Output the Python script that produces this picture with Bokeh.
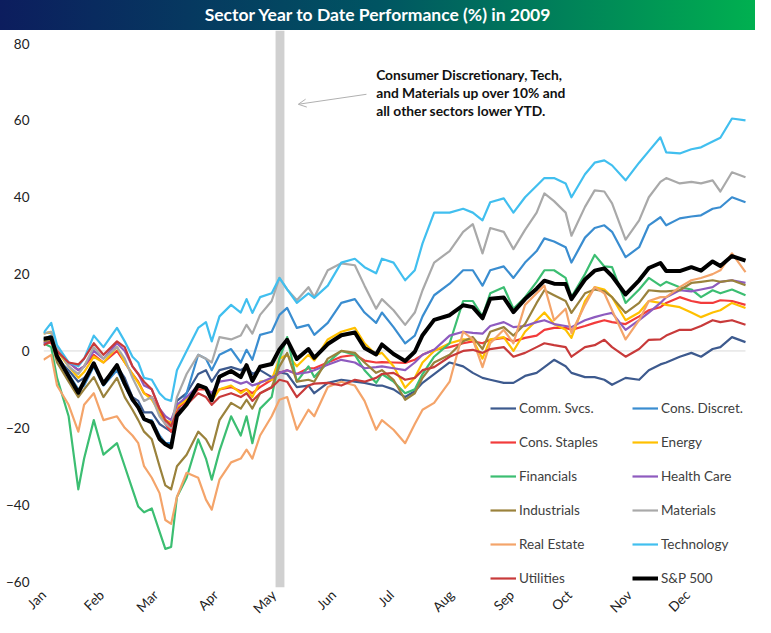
import numpy as np
import pandas as pd
from math import pi
from bokeh.plotting import figure
from bokeh.layouts import column
from bokeh.models import (Range1d, FixedTicker, DatetimeTickFormatter, Legend, LegendItem,
                          BoxAnnotation, Label, Arrow, OpenHead, ColumnDataSource, Div)
from bokeh.embed import file_html
from bokeh.resources import INLINE

# ---------------- data (YTD % change, 2009) ----------------
dates = ["2009-01-02", "2009-01-06", "2009-01-09", "2009-01-15", "2009-01-20", "2009-01-23", "2009-01-28",
         "2009-02-02", "2009-02-09", "2009-02-13", "2009-02-17", "2009-02-20", "2009-02-23", "2009-02-27",
         "2009-03-03", "2009-03-06", "2009-03-09", "2009-03-12", "2009-03-17", "2009-03-23", "2009-03-27", "2009-03-30",
         "2009-04-03", "2009-04-09", "2009-04-14", "2009-04-17", "2009-04-20", "2009-04-24", "2009-04-30",
         "2009-05-04", "2009-05-08", "2009-05-13", "2009-05-19", "2009-05-22", "2009-05-29",
         "2009-06-05", "2009-06-12", "2009-06-17", "2009-06-23", "2009-06-26",
         "2009-07-02", "2009-07-08", "2009-07-13", "2009-07-17", "2009-07-23", "2009-07-31",
         "2009-08-07", "2009-08-12", "2009-08-17", "2009-08-21", "2009-08-28",
         "2009-09-02", "2009-09-08", "2009-09-14", "2009-09-18", "2009-09-23", "2009-09-29",
         "2009-10-02", "2009-10-09", "2009-10-14", "2009-10-19", "2009-10-23", "2009-10-30",
         "2009-11-06", "2009-11-11", "2009-11-17", "2009-11-20", "2009-11-27",
         "2009-12-03", "2009-12-08", "2009-12-14", "2009-12-18", "2009-12-24", "2009-12-31"]

comm_svcs = [3, 3, -2, -5, -8, -7, -4,
             -8, -4, -7, -12, -13, -16, -16,
             -19, -20, -21, -13, -11, -6, -5, -8,
             -5, -4.2, -5, -4, -6, -5, -6.8,
             -5.5, -6, -9.4, -9, -11, -8.3,
             -7.5, -8, -8.3, -9, -9,
             -10, -12, -10.5, -8.3, -6, -3,
             -4, -5.7, -7, -7.5, -8.3,
             -8.3, -6.5, -5.7, -4.2, -2.3, -4,
             -5.7, -6.8, -6.8, -7.5, -8.8, -7,
             -7.5, -5, -3.5, -3, -1.5,
             -0.5, -1.5, 0.5, 1, 3.6, 2.3]

cons_discret = [3, 4, -1, -6, -10, -9, -4,
                -9, -5, -9, -13, -14, -18, -18,
                -22, -24, -24, -16, -11, -1, -2, -5,
                -1, 0.5, -3, 0.3, -2.3, 4.2, 5,
                9.4, 11.2, 6, 6.8, 4.2, 7.3,
                12.5, 13.5, 10, 7.3, 10,
                6.2, 2, 4, 9, 14.5, 17.5,
                21, 21, 17, 21, 22,
                19, 23, 26, 29.3, 28.5, 27,
                23, 29.5, 32, 32.7, 31, 24.4,
                27, 32.7, 34.8, 32.7, 34.5,
                35, 35.3, 37, 37.4, 40, 38.7]

cons_staples = [2.5, 2, 0, -3, -5, -4, -1,
                -3, 0, -3, -6, -8, -11, -12,
                -16, -19, -21, -15, -13, -10, -10, -12,
                -10, -9.4, -10.5, -10, -11, -9.4, -7.5,
                -5.7, -5, -6, -4.5, -4.5, -3,
                -1.5, -1, -2.5, -3, -2.9,
                -3, -3.1, -2.3, -1, 0.3, 1,
                2, 2.5, 2, 2.9, 3.4,
                2.5, 3.4, 4, 5.5, 6, 6,
                5.5, 6.5, 7.3, 8, 7.5, 7,
                9, 10.6, 11.4, 12.5, 14,
                13, 12.5, 12.5, 13.2, 13, 12]

energy = [4.5, 5, 0, -4, -7, -5.5, -1.5,
          -3, 1, -3, -6, -8.3, -11, -12.7,
          -16, -18, -18.7, -14.5, -12.7, -9, -10, -13,
          -10, -9, -11, -10, -12, -8, -7.5,
          -2, -1, -4, -1, -2.5, 3,
          5, 6, 2, -1, -0.5,
          -4, -9.6, -7, -3, 0, 2,
          3, 2.9, -2, 3, 3.6,
          0, 5, 8, 10, 7, 5.5,
          3.4, 13, 16.6, 16, 14, 8,
          10, 13, 12.5, 12, 11.4,
          10, 8.8, 10, 10.6, 12.5, 11.2]

financials = [2, 1, -7, -17, -36, -28, -18,
              -27, -24, -30, -36, -40.5, -42, -41,
              -47, -51.5, -51, -38, -33, -23, -28, -33.5,
              -26, -17, -22, -17, -24, -15, -12,
              -2, 3.6, -8, -4, -6.8, -3,
              0, -1, -5, -8.3, -6,
              -8, -11, -10, -6, -1.5, 2,
              13, 13, 9, 15, 16.6,
              11, 14, 18, 21, 21, 19,
              14, 20, 25, 22, 21.8, 12.5,
              16, 19, 17, 18, 16.6,
              16, 14, 15.8, 15, 16, 14.5]

health_care = [2, 2.5, 0, -3, -5, -4, 0,
               -2, 2, 0, -4, -6, -9, -10,
               -15, -17, -18, -14, -12, -9, -9.6, -11,
               -8, -7.5, -8.5, -8, -9, -8.3, -7,
               -5.7, -5, -6, -5.5, -5, -3.6,
               -2.3, -3, -4.5, -4.2, -4,
               -4.5, -5, -3, -1, 0.3, 4,
               5, 4.7, 4.5, 6.5, 7.5,
               6.2, 6.5, 7.5, 8, 7, 6.5,
               6.2, 8, 8.8, 9.5, 9.9, 5.5,
               8, 10, 12.5, 14, 15.8,
               15.5, 16, 16.6, 18, 18.4, 17.7]

industrials = [2.5, 3, -3, -8, -12, -10, -6.8,
               -12, -7, -12, -15.3, -18, -21, -23,
               -30, -35, -36, -30, -27, -21, -23, -25.7,
               -18, -13.5, -15, -12.7, -15, -11, -9.4,
               -4, -0.5, -8, -7.5, -8, -2,
               0, -0.5, -3, -5.7, -5,
               -7.5, -12.7, -11, -7, -3, -1,
               2.5, 3.6, 0.5, 5, 6.2,
               4, 7, 12.5, 15.8, 14.5, 13,
               9.9, 15, 16, 15.5, 14, 9.9,
               12.5, 15.8, 15.5, 15.5, 15.8,
               17.7, 18, 18.4, 18, 18.4, 17.1]

materials = [4.5, 5, 1, -4, -6, -4, 1,
             -2, 1, -2, -7, -10, -13, -12,
             -17, -19, -20, -12, -6, -1, -2, -3,
             3.6, 3, 4, 6.8, 4.5, 9.4, 13,
             19, 16, 13.2, 16.6, 14, 21,
             22.8, 22.3, 17, 11, 13.5,
             10.6, 6.8, 10, 15.8, 23, 26,
             31, 33, 25.4, 32, 31,
             26.5, 31.5, 36, 41, 39, 36,
             30, 37.5, 41.8, 41.5, 38.4, 29,
             34, 40, 44, 45, 43.6,
             44, 43.6, 44.4, 41.5, 46.5, 45.2]

real_estate = [-2.3, -1, -9, -14, -21, -14, -11,
               -18, -17, -20, -22, -24, -30, -33,
               -37, -44, -45, -38, -31.7, -33, -38.7, -41.3,
               -33.5, -29, -28, -25.7, -28, -22, -17,
               -12.7, -12, -20.5, -15.3, -17, -9.4,
               -8, -9, -13, -20.5, -18,
               -20.5, -24, -19, -15.3, -13.5, -8,
               5, 3, -4.2, 2, 5.5,
               2, 12, 15, 17, 8, 11,
               4.7, 12, 16.6, 15, 10.6, 3,
               8, 13, 14, 14, 16.6,
               18.4, 19, 20, 21, 25.4, 20.5]

technology = [4.7, 7.3, 1.5, -3, -4, -2, 4,
              1, 6, 2.5, -1.5, -3, -7, -7.5,
              -11, -12.5, -13, -5, 0, 6, 7.5, 2.5,
              9, 12, 10, 13.5, 9.9, 14, 15,
              19, 16, 12.5, 15, 13.8, 17,
              23, 24, 21.8, 20.2, 24,
              23, 18.4, 21, 28, 36, 36,
              37, 36, 34, 38.7, 39.7,
              36, 40, 43, 45, 45, 43.6,
              40, 46, 49, 49.6, 48.3, 44.4,
              49, 52, 55.6, 51.7, 51.4,
              52.5, 53, 54.5, 55.5, 60.5, 60]

utilities = [1.5, 2.5, 0, -3, -3.5, -2, 2,
             -1, 2.5, 1, -4, -6, -8, -10,
             -15, -18, -19.5, -16, -14, -11, -12, -14,
             -12, -11, -12, -11, -13, -11, -9.5,
             -7.5, -8, -12, -9, -8.5, -8.3,
             -9, -7.5, -8, -7, -6,
             -5.7, -7.5, -7, -5, -4.2, -1.5,
             0, 0.3, -0.5, 0.5, 1,
             -1.5, -0.5, 1, 2, 1.5, 1,
             -1.5, 1, 1.5, 2.9, 1, -1.5,
             0.5, 2.9, 3, 4, 5.5,
             5.5, 6.5, 8, 7.5, 8, 6.8]

sp500 = [3.2, 3.5, -1.4, -6.6, -10.9, -7.9, -3.2,
         -8.6, -3.7, -8.5, -12.6, -14.7, -17.7, -18.6,
         -22.9, -24.3, -25.1, -16.9, -13.9, -8.9, -9.7, -12.8,
         -6.7, -5.2, -6.8, -3.7, -7.8, -4.1, -3.4,
         0.4, 2.9, -2.1, 0.5, -1.8, 1.8,
         4.1, 4.8, 0.8, -0.9, 1.7,
         -0.8, -2.6, -0.2, 4.1, 8.1, 9.3,
         11.9, 11.4, 8.5, 13.6, 13.9,
         10.1, 13.5, 16.2, 18.3, 17.5, 17.4,
         13.5, 18.6, 20.9, 21.5, 19.5, 14.7,
         18.4, 21.6, 22.9, 20.8, 20.8,
         21.8, 20.9, 23.3, 22.1, 24.7, 23.5]

series_names = ["Comm. Svcs.", "Cons. Discret.", "Cons. Staples", "Energy", "Financials",
                "Health Care", "Industrials", "Materials", "Real Estate", "Technology",
                "Utilities", "S&P 500"]
series_values = [comm_svcs, cons_discret, cons_staples, energy, financials, health_care,
                 industrials, materials, real_estate, technology, utilities, sp500]
series_colors = ["#3D5A8E", "#3A8DD0", "#F23B3B", "#FFC000", "#3CBE72", "#8E5BBF",
                 "#9A823C", "#A9A9A9", "#F4A46A", "#41BFEF", "#C83A3A", "#000000"]

month_ticks = ["2009-01-02", "2009-02-01", "2009-03-01", "2009-04-01", "2009-05-01", "2009-06-01",
               "2009-07-01", "2009-08-01", "2009-09-01", "2009-10-01", "2009-11-01", "2009-12-01"]
y_ticks = [-60, -40, -20, 0, 20, 40, 60, 80]

title_text = "Sector Year to Date Performance (%) in 2009"
band_start, band_end = "2009-05-02", "2009-05-06 14:00"
note_lines = ["Consumer Discretionary, Tech,", "and Materials up over 10% and", "all other sectors lower YTD."]

# ---------------- helpers ----------------
FONT = "Lato"
dt = pd.to_datetime(dates)

def ms(s):
    return pd.Timestamp(s).value / 1e6

W = 755
TITLE_H = 30
MAIN_H = 595
LB, RB = 43, 6
BB = 37

# ---------------- title bar (gradient) ----------------
title = Div(
    text=('<div style="width:%dpx;height:%dpx;line-height:%dpx;text-align:center;color:white;'
          'font-family:Lato;font-weight:bold;font-size:17.5px;'
          'background:linear-gradient(to right,#0c1d5e 0%%,#005462 50%%,#00b050 100%%);">%s</div>')
         % (W, TITLE_H, TITLE_H, title_text),
    width=W, height=TITLE_H, margin=0)

# ---------------- main chart ----------------
x0 = dt[0]
span_days = (dt[-1] - dt[0]).days
frame_w = W - LB - RB
x1 = x0 + pd.Timedelta(days=span_days * frame_w / 702.0)

p = figure(width=W, height=MAIN_H, x_axis_type="datetime",
           x_range=Range1d(ms(x0), ms(x1)), y_range=Range1d(-61.56, 83.4),
           toolbar_location=None, output_backend="svg",
           min_border_left=LB, min_border_right=RB, min_border_top=0, min_border_bottom=BB)
p.outline_line_color = None
p.grid.visible = False
p.background_fill_color = "white"

# gray highlight band
p.add_layout(BoxAnnotation(left=ms(band_start), right=ms(band_end), fill_color="#D0D0D0",
                           fill_alpha=1.0, line_color=None, level="underlay"))

# zero line
p.segment(x0=[dt[0]], y0=[0], x1=[dt[-1]], y1=[0], line_color="#D9D9D9", line_width=1)

renderers = []
for name, vals, col in zip(series_names, series_values, series_colors):
    src = ColumnDataSource(dict(x=dt, y=vals))
    lw = 4 if name == "S&P 500" else 2.2
    r = p.line("x", "y", source=src, line_color=col, line_width=lw, line_join="round")
    renderers.append((name, r))

# axes
p.yaxis.ticker = FixedTicker(ticks=y_ticks)
p.xaxis.ticker = FixedTicker(ticks=[ms(t) for t in month_ticks])
fmt = "%b"
p.xaxis.formatter = DatetimeTickFormatter(microseconds=fmt, milliseconds=fmt, seconds=fmt,
                                          minsec=fmt, minutes=fmt, hourmin=fmt, hours=fmt,
                                          days=fmt, months=fmt, years=fmt)
for ax in (p.xaxis, p.yaxis):
    ax.axis_line_color = None
    ax.major_tick_line_color = None
    ax.minor_tick_line_color = None
    ax.major_tick_out = 0
    ax.major_tick_in = 0
    ax.minor_tick_out = 0
    ax.major_label_text_font = FONT
    ax.major_label_text_font_size = "13.5px"
    ax.major_label_text_color = "#222222"
p.yaxis.major_label_standoff = 14
p.xaxis.major_label_orientation = pi / 4
p.xaxis.major_label_standoff = 5

# annotation
note_x = ms("2009-06-23")
for txt, yv in zip(note_lines, [71.9, 67.3, 62.7]):
    p.add_layout(Label(x=note_x, y=yv, text=txt, text_font=FONT, text_font_style="bold",
                       text_font_size="13.8px", text_color="#111111", text_baseline="middle"))
p.add_layout(Arrow(end=OpenHead(size=8, line_color="#B0B0B0", line_width=1),
                   x_start=ms("2009-06-18"), y_start=66.8,
                   x_end=ms("2009-05-13 18:00"), y_end=64.2,
                   line_color="#B0B0B0", line_width=1))

# legends (two columns)
items = [LegendItem(label=nm, renderers=[r]) for nm, r in renderers]
common = dict(orientation="vertical", padding=0, spacing=18, glyph_width=26, glyph_height=12,
              label_height=12, label_standoff=3, border_line_color=None,
              background_fill_alpha=0, label_text_font=FONT, label_text_font_size="13.5px",
              label_text_color="#404040", margin=0)
leg1 = Legend(items=items[0::2], location=(447, 1), **common)
leg2 = Legend(items=items[1::2], location=(589, 1), **common)
p.add_layout(leg1)
p.add_layout(leg2)

layout = column(title, p, spacing=0)
open("out.html", "w").write(file_html(layout, INLINE))
